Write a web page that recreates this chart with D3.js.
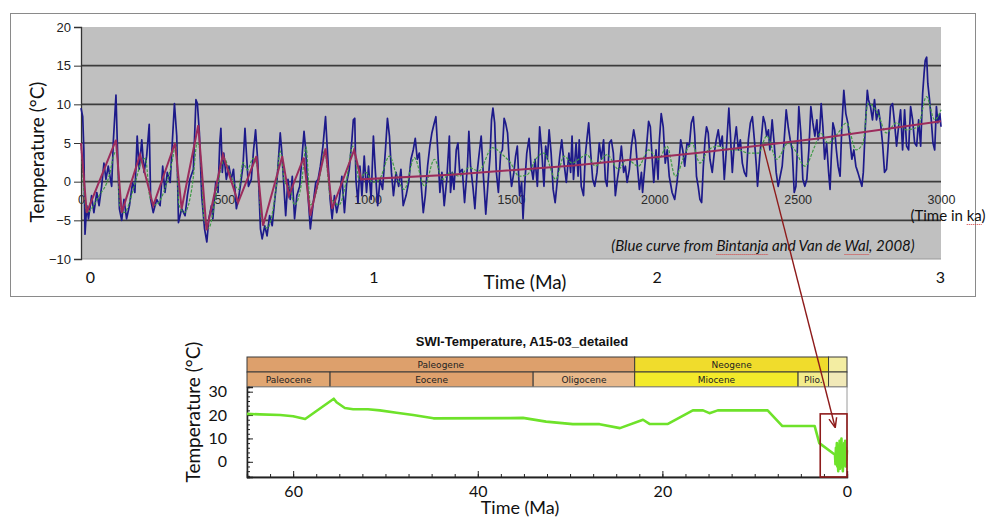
<!DOCTYPE html>
<meta charset="utf-8">
<style>
body { margin: 0; background: #fff; }
svg { display: block; }
.num { font-family: "Liberation Sans", Arial, sans-serif; }
.cal { font-family: Lato, "Open Sans", sans-serif; }
</style>
<body>
<script src="https://d3js.org/d3.v7.min.js"></script>
<script>

// ---- data: upper chart (time in ka, temperature in degC) ----
var blueCurve = [[0,9.5],[6,8.4],[10,4.1],[14,-6.8],[20,-3.1],[26,-4.8],[37,-1.8],[45,-4],[55,-1.4],[63,-3.1],[72,-0.6],[80,2.4],[87,0.3],[95,2],[107,-0.6],[113,5.4],[122,11.2],[127,4.6],[134,-3.5],[142,-5],[150,-2.3],[159,-4.8],[169,-3.1],[180,-0.1],[188,-1.4],[196,5.9],[203,1.6],[212,5.4],[220,1.2],[229,3.3],[238,7.4],[243,-2.3],[252,-4],[264,-2.3],[276,-3.1],[285,2],[293,-1.4],[301,1.2],[311,-0.1],[319,5.4],[326,10.1],[334,5.9],[340,-5.3],[351,-3.5],[363,-4.4],[371,-1.8],[380,0.3],[392,1.6],[401,10.6],[406,10.1],[413,6.3],[421,-1.8],[431,-6.1],[439,-7.8],[446,-4.8],[455,-3.1],[460,-4.8],[470,-0.1],[478,-1.4],[484,5],[488,6.9],[493,1.2],[498,3.7],[507,0.3],[516,2],[524,0.3],[532,1.6],[542,-3.5],[551,-1.8],[559,0.3],[565,2],[572,6.9],[577,3.7],[584,-0.6],[594,0.3],[602,4.1],[609,6.7],[617,2.4],[626,-6.1],[632,-7.4],[641,-5.7],[649,-7],[658,-4.4],[667,-5.7],[676,-2.3],[684,0.3],[691,4.1],[695,6.3],[700,4.1],[707,-0.1],[714,-4.4],[722,0.3],[730,-2.3],[737,0.7],[745,-4.8],[753,-1.8],[763,-0.6],[772,3.7],[778,6.5],[784,4.1],[792,-1.8],[800,-6.1],[809,-3.1],[819,-0.1],[827,0.3],[835,2],[844,4.6],[853,8.4],[860,3.7],[869,-2.3],[876,-4.8],[884,-1.8],[892,-4],[901,-2.3],[910,0.7],[919,-4],[927,-0.1],[936,1.6],[945,5.4],[950,8],[955,8.2],[959,0.3],[966,-2.7],[973,2],[980,-1.8],[988,3.3],[996,-1.4],[1003,2],[1012,-2.3],[1020,5.9],[1027,1.2],[1035,-3.1],[1043,0.3],[1052,-1],[1062,4.1],[1069,8.2],[1076,5.9],[1083,1.2],[1090,-1.8],[1099,1.2],[1108,-0.6],[1116,1.6],[1124,-3.1],[1134,-1.8],[1143,-0.1],[1151,2.9],[1159,4.1],[1166,5.6],[1173,2.9],[1180,3.7],[1187,-0.6],[1194,-4],[1201,-1.8],[1209,2],[1217,4.6],[1224,6.3],[1231,7.4],[1238,8.4],[1245,3.7],[1252,-1.4],[1259,1.2],[1267,-3.1],[1276,0.3],[1285,5.9],[1289,-1.4],[1295,1.2],[1301,-1],[1309,4.1],[1315,5],[1321,1.2],[1330,1.6],[1338,-2.7],[1348,2],[1353,6.5],[1359,2],[1367,-0.6],[1374,-3.5],[1382,1.2],[1388,3.3],[1396,5.9],[1403,1.2],[1412,-4.2],[1420,-0.1],[1427,3.3],[1432,8],[1437,9.5],[1443,7.6],[1449,1.2],[1456,-1.4],[1464,3.7],[1470,4.1],[1476,8.2],[1481,7.6],[1488,6.3],[1495,2],[1502,-0.6],[1510,1.2],[1516,3.3],[1522,4.6],[1530,-1.8],[1537,-0.1],[1542,-4.8],[1549,0.3],[1555,3.7],[1563,5.6],[1570,2],[1577,0.3],[1584,2.9],[1592,-0.6],[1600,7.1],[1607,4.1],[1615,-0.6],[1621,4.6],[1627,2.9],[1633,6.7],[1640,3.7],[1647,-1],[1654,-2.7],[1662,0.3],[1670,3.3],[1677,5.4],[1685,2.4],[1693,-0.1],[1702,3.7],[1708,1.2],[1713,5.9],[1718,0.3],[1727,5],[1734,0.7],[1738,5.4],[1745,-0.6],[1753,-1.8],[1759,3.3],[1766,5.9],[1771,7.6],[1778,3.7],[1785,0.3],[1792,-0.6],[1800,1.2],[1808,5],[1815,2.9],[1823,5.4],[1829,0.3],[1835,-0.6],[1843,5],[1850,5.4],[1857,3.7],[1864,-1.8],[1871,0.3],[1878,2],[1885,4.6],[1893,1.2],[1899,2],[1905,-0.1],[1913,1.6],[1920,4.6],[1928,6.7],[1934,5.4],[1941,2],[1948,-1],[1955,1.2],[1959,-1.4],[1966,1.6],[1973,4.6],[1980,7.8],[1986,7.1],[1992,3.3],[1998,-0.1],[2006,4.1],[2013,0.3],[2017,5],[2024,8.8],[2031,7.1],[2038,2.4],[2045,4.1],[2052,0.7],[2062,-1.4],[2071,-2.3],[2079,-0.1],[2085,2],[2092,5.4],[2099,4.1],[2106,2],[2114,5],[2122,4.6],[2129,7.6],[2136,8.4],[2141,6],[2147,0.7],[2153,-0.6],[2159,-2.3],[2165,-2.7],[2171,2],[2177,5.4],[2182,7.1],[2188,6.3],[2194,2.9],[2202,1.2],[2209,3.7],[2216,5.4],[2223,6.7],[2230,4.6],[2237,5.9],[2244,0.3],[2249,2.9],[2256,7.1],[2260,9.5],[2265,6.3],[2272,1.2],[2279,5],[2286,7.1],[2293,4.1],[2300,5.4],[2307,2.4],[2314,1.2],[2321,0.7],[2328,5.4],[2335,7.6],[2342,8.4],[2349,5.4],[2356,2],[2360,-0.6],[2367,2.9],[2374,5.9],[2380,8.4],[2386,7.6],[2392,5.9],[2398,6.7],[2403,4.1],[2411,8],[2418,5],[2425,1.2],[2432,-0.6],[2439,0.7],[2446,2],[2453,5.4],[2460,9.3],[2467,7.1],[2474,5.4],[2481,4.1],[2488,-1.4],[2494,-0.6],[2500,5.4],[2504,9.7],[2511,6.3],[2518,0.3],[2525,-0.6],[2532,0.3],[2539,4.1],[2546,9.7],[2553,7.6],[2560,5.9],[2567,8],[2571,5.4],[2577,6.7],[2582,10.1],[2588,7.1],[2594,2.9],[2601,5],[2608,1.2],[2613,-1],[2617,2.9],[2623,7.6],[2629,6.7],[2635,4.1],[2641,2],[2648,0.7],[2654,7.1],[2661,11.8],[2668,8.8],[2675,7.6],[2682,5.4],[2689,2.9],[2696,4.1],[2703,2],[2710,1.2],[2717,0.3],[2724,-0.6],[2729,1.2],[2736,7.1],[2743,11.8],[2747,10.6],[2754,9.7],[2761,8],[2768,10.6],[2775,8],[2782,9.3],[2789,7.6],[2796,5],[2803,1.2],[2810,1.6],[2817,5.4],[2824,9.7],[2831,10.1],[2838,7.6],[2845,4.6],[2852,7.1],[2859,9.3],[2866,4.1],[2873,9.3],[2880,4.6],[2887,4.1],[2894,9.7],[2901,8],[2908,5],[2915,4.6],[2922,8],[2929,4.6],[2936,11.4],[2941,14],[2945,15.7],[2950,16.1],[2954,12.7],[2960,10.6],[2966,8],[2972,5],[2978,4.1],[2984,9.7],[2989,7.6],[2996,8.8],[3000,7.1]];

var greenCurve = [[0,5],[12,-2],[20,-4],[60,-2],[100,1],[115,3.5],[125,4],[135,-3],[150,-4],[190,0],[210,2.5],[225,3],[240,-2],[260,-3],[300,0],[320,3],[330,5],[342,-3],[360,-4],[390,0],[405,5],[415,4],[430,-5],[445,-6],[470,-2],[490,2],[500,3],[520,1],[550,-1],[565,2.5],[580,1.5],[600,3],[615,2],[630,-5],[650,-6],[680,-1],[695,4],[710,0],[730,-1],[745,-3],[770,0],[785,4.5],[800,-3],[830,0],[850,4],[870,-2],[900,-3],[925,0],[948,4.6],[971,0.3],[994,1.2],[1017,-0.1],[1041,0.3],[1076,3.3],[1105,0.3],[1128,-1],[1163,3.1],[1198,-0.6],[1233,2.9],[1262,0.3],[1288,1.2],[1319,0.7],[1353,1.8],[1388,1.4],[1435,4.4],[1470,3.5],[1499,2.4],[1528,0.7],[1557,0.9],[1586,2.9],[1615,3.7],[1656,0.3],[1685,3.3],[1714,2.4],[1736,2.9],[1765,3.5],[1794,2],[1835,3.5],[1875,1.6],[1904,2.9],[1945,2],[1980,4.1],[2015,2.9],[2044,4.6],[2073,0.7],[2108,3.7],[2131,5],[2159,2.4],[2188,4.1],[2223,4.6],[2258,4.1],[2293,4.1],[2328,3.7],[2363,3.7],[2392,5.9],[2427,2.9],[2467,5],[2490,4.1],[2525,2],[2560,4.6],[2580,6.3],[2606,5],[2641,6.3],[2670,7.6],[2704,4.1],[2728,5],[2745,10.1],[2780,8.8],[2809,6.3],[2844,7.6],[2879,6.7],[2920,7.1],[2949,11],[2978,8],[3000,9.3]];

var maroonCurve = [[0,5],[20,-4],[122,5.4],[142,-4],[206,3.5],[252,-3.1],[328,5],[351,-3.5],[409,7.3],[438,-6.3],[495,3.5],[548,-2.7],[612,3.3],[635,-5.7],[702,3.3],[725,-1.8],[777,3.1],[800,-4.4],[853,4.3],[876,-3.5],[953,4.1],[977,0.3],[1291,0.9],[1720,2.1],[2149,3.7],[2578,5.6],[3000,7.8]];

var kaTicks = [0, 500, 1000, 1500, 2000, 2500, 3000];
var tempTicksTop = [-10, -5, 0, 5, 10, 15, 20];
var maTicksTop = [0, 1, 2, 3];

// ---- data: lower chart (age in Ma, temperature in degC) ----
var swiCurve = [[65,20.5],[63.6,20.3],[61.4,20],[60,19.5],[58.7,18.3],[55.6,27],[55.3,25.5],[54.4,23],[53.5,22.5],[51.9,22.5],[50.6,22],[48.8,21],[47,20],[44.8,18.6],[36.5,18.7],[35.1,18.8],[32.6,17.2],[29.7,16.1],[26.8,16.1],[24.6,14.4],[22.1,18],[21.4,16.2],[19.4,16.2],[16.7,22],[15.6,22],[14.9,20.8],[14,22],[8.6,22],[7,15.3],[3.5,15.3],[3,8],[1.3,3],[1.25,-1],[1.2,6],[1.15,0],[1.1,8],[1.05,-2],[1.0,5],[0.95,-4],[0.9,7],[0.85,1],[0.8,9],[0.75,-3],[0.7,6],[0.65,-2],[0.6,10],[0.55,0],[0.5,7],[0.45,-4],[0.4,5],[0.35,-1],[0.3,8],[0.25,2],[0.2,9],[0.15,-2],[0.1,6],[0.05,1],[0,5]];

var periods = [
  { name: "Paleogene", from: 65, to: 23, fill: "#dda06c" },
  { name: "Neogene", from: 23, to: 2.0, fill: "#f0dc2c" },
  { name: "", from: 2.0, to: 0, fill: "#f3eda2" }
];
var epochs = [
  { name: "Paleocene", from: 65, to: 56, fill: "#e0a672" },
  { name: "Eocene", from: 56, to: 34, fill: "#dfa16d" },
  { name: "Oligocene", from: 34, to: 23, fill: "#e8b88a" },
  { name: "Miocene", from: 23, to: 5.3, fill: "#f3ea2a" },
  { name: "Plio.", from: 5.3, to: 2.0, fill: "#f3ec8c" },
  { name: "", from: 2.0, to: 0, fill: "#f1e9b8" }
];
var maTicksLow = [60, 40, 20, 0];
var tempTicksLow = [0, 10, 20, 30];

var svg = d3.select("body").append("svg")
    .attr("width", 989)
    .attr("height", 517);

// ================= upper chart =================
var xTop = d3.scaleLinear().domain([0, 3000]).range([81, 941]);
var yTop = d3.scaleLinear().domain([-10, 20]).range([259, 27]);
var xMa = d3.scaleLinear().domain([0, 3]).range([90, 940]);

svg.append("rect")
    .attr("x", 10.5).attr("y", 13.5).attr("width", 965).attr("height", 283)
    .attr("fill", "#fff").attr("stroke", "#8a8a8a");

svg.append("rect")
    .attr("x", xTop(0)).attr("y", yTop(20))
    .attr("width", xTop(3000) - xTop(0)).attr("height", yTop(-10) - yTop(20))
    .attr("fill", "#c0c0c0");

// horizontal grid
svg.append("g").selectAll("line")
    .data(tempTicksTop.filter(function(d) { return d > -10 && d < 20; }))
  .enter().append("line")
    .attr("x1", xTop(0)).attr("x2", xTop(3000))
    .attr("y1", function(d) { return yTop(d); })
    .attr("y2", function(d) { return yTop(d); })
    .attr("stroke", "#3c3c3c").attr("stroke-width", 1.6);

svg.append("line")
    .attr("x1", xTop(0)).attr("x2", xTop(3000))
    .attr("y1", yTop(-10)).attr("y2", yTop(-10))
    .attr("stroke", "#9a9a9a").attr("stroke-width", 1);

// y axis
var yAxisTop = svg.append("g")
    .attr("class", "num")
    .attr("transform", "translate(" + xTop(0) + ",0)")
    .call(d3.axisLeft(yTop).tickValues(tempTicksTop).tickSize(7).tickPadding(3));
yAxisTop.select(".domain").attr("stroke", "#333").attr("stroke-width", 1.3);
yAxisTop.selectAll(".tick line").attr("stroke", "#333");
yAxisTop.selectAll("text").attr("font-size", 13).attr("fill", "#222");

// ka labels on the zero line
var kaAxis = svg.append("g")
    .attr("class", "num")
    .attr("transform", "translate(0," + yTop(0) + ")")
    .call(d3.axisBottom(xTop).tickValues(kaTicks).tickFormat(d3.format("d")).tickSize(0).tickPadding(13));
kaAxis.select(".domain").remove();
kaAxis.selectAll("text").attr("font-size", 12.5).attr("fill", "#2a2a2a");

// curves
var lineTop = d3.line()
    .x(function(d) { return xTop(d[0]); })
    .y(function(d) { return yTop(d[1]); });

svg.append("path").datum(blueCurve)
    .attr("d", lineTop).attr("fill", "none")
    .attr("stroke", "#1d1a8a").attr("stroke-width", 1.7).attr("stroke-linejoin", "round");

svg.append("path").datum(greenCurve)
    .attr("d", lineTop.curve(d3.curveMonotoneX)).attr("fill", "none")
    .attr("stroke", "#3f9a45").attr("stroke-width", 1.2).attr("stroke-dasharray", "3,1.5");
lineTop.curve(d3.curveLinear);

svg.append("path").datum(maroonCurve)
    .attr("d", lineTop).attr("fill", "none")
    .attr("stroke", "#9b2c5c").attr("stroke-width", 2);

// Ma labels and axis titles
var maAxis = svg.append("g")
    .attr("class", "cal")
    .attr("transform", "translate(0,272)")
    .call(d3.axisBottom(xMa).tickValues(maTicksTop).tickFormat(d3.format("d")).tickSize(0).tickPadding(0));
maAxis.select(".domain").remove();
maAxis.selectAll("text").attr("font-size", 16).attr("fill", "#111");

svg.append("text").attr("class", "cal")
    .attr("x", 525).attr("y", 289).attr("text-anchor", "middle")
    .attr("font-size", 19).attr("fill", "#111").text("Time (Ma)");

svg.append("text").attr("class", "cal")
    .attr("transform", "translate(44,152) rotate(-90)").attr("text-anchor", "middle")
    .attr("font-size", 19).attr("fill", "#111").text("Temperature (°C)");

// annotation texts with the spell-check squiggles seen in the source
function squiggle(textSel, word) {
  var node = textSel.node(), s = node.textContent, i = s.indexOf(word);
  if (i < 0) return;
  var x0 = node.getStartPositionOfChar(i).x, x1 = node.getEndPositionOfChar(i + word.length - 1).x;
  var y = node.getBBox().y + node.getBBox().height + 0.5;
  svg.append("line").attr("x1", x0).attr("x2", x1).attr("y1", y).attr("y2", y)
      .attr("stroke", "#d23b3b").attr("stroke-width", 1).attr("stroke-dasharray", "1,1");
}

var kaNote = svg.append("text").attr("class", "cal")
    .attr("x", 948).attr("y", 221).attr("text-anchor", "middle")
    .attr("font-size", 15).attr("fill", "#111").text("(Time in ka)");
squiggle(kaNote, "ka");

var credit = svg.append("text").attr("class", "cal")
    .attr("x", 763).attr("y", 251).attr("text-anchor", "middle")
    .attr("font-size", 15).attr("font-style", "italic").attr("fill", "#111")
    .text("(Blue curve from Bintanja and Van de Wal, 2008)");
squiggle(credit, "Bintanja");
squiggle(credit, "Wal");

// ================= lower chart =================
var xLow = d3.scaleLinear().domain([65, 0]).range([247, 847]);
var yLow = d3.scaleLinear().domain([-6.5, 32]).range([477, 387]);

svg.append("text")
    .attr("x", 522).attr("y", 346).attr("text-anchor", "middle")
    .attr("font-family", "'Liberation Sans', Arial, sans-serif")
    .attr("font-weight", "bold").attr("font-size", 13).attr("fill", "#111")
    .text("SWI-Temperature, A15-03_detailed");

function drawBand(rows, y0, h) {
  var g = svg.append("g");
  g.selectAll("rect").data(rows).enter().append("rect")
      .attr("x", function(d) { return xLow(d.from); })
      .attr("y", y0)
      .attr("width", function(d) { return xLow(d.to) - xLow(d.from); })
      .attr("height", h)
      .attr("fill", function(d) { return d.fill; })
      .attr("stroke", "#3a3a3a").attr("stroke-width", 1);
  g.selectAll("text").data(rows).enter().append("text")
      .attr("x", function(d) { return (xLow(d.from) + xLow(d.to)) / 2; })
      .attr("y", y0 + h - 4)
      .attr("text-anchor", "middle")
      .attr("font-family", "'DejaVu Sans', sans-serif")
      .attr("font-size", 9).attr("fill", "#222")
      .text(function(d) { return d.name; });
}
drawBand(periods, 357, 15);
drawBand(epochs, 372, 15);

// plot frame
svg.append("rect")
    .attr("x", xLow(65)).attr("y", yLow(32))
    .attr("width", xLow(0) - xLow(65)).attr("height", yLow(-6.5) - yLow(32))
    .attr("fill", "#fff").attr("stroke", "#9a9a9a");

// axes with inner ticks
var xMinor = svg.append("g")
    .attr("transform", "translate(0," + yLow(-6.5) + ")")
    .call(d3.axisBottom(xLow).tickValues(d3.range(0, 65.1, 2.5)).tickSize(-3).tickFormat(""));
var xMajor = svg.append("g")
    .attr("class", "cal")
    .attr("transform", "translate(0," + yLow(-6.5) + ")")
    .call(d3.axisBottom(xLow).tickValues(maTicksLow).tickSize(-6).tickPadding(9));
[xMinor, xMajor].forEach(function(a) {
  a.select(".domain").attr("stroke", "#222").attr("stroke-width", 1.3);
  a.selectAll(".tick line").attr("stroke", "#222");
});
xMajor.selectAll("text").attr("font-size", 16).attr("fill", "#111");

var yMinor = svg.append("g")
    .attr("transform", "translate(" + xLow(65) + ",0)")
    .call(d3.axisLeft(yLow).tickValues(d3.range(-6, 32.1, 2)).tickSize(-3).tickFormat(""));
var yMajor = svg.append("g")
    .attr("class", "cal")
    .attr("transform", "translate(" + xLow(65) + ",0)")
    .call(d3.axisLeft(yLow).tickValues(tempTicksLow).tickSize(-6).tickPadding(20));
[yMinor, yMajor].forEach(function(a) {
  a.select(".domain").attr("stroke", "#222").attr("stroke-width", 1.3);
  a.selectAll(".tick line").attr("stroke", "#222");
});
yMajor.selectAll("text").attr("font-size", 16).attr("fill", "#111");

var lineLow = d3.line()
    .x(function(d) { return xLow(d[0]); })
    .y(function(d) { return yLow(d[1]); });

svg.append("path").datum(swiCurve)
    .attr("d", lineLow).attr("fill", "none")
    .attr("stroke", "#6ee22a").attr("stroke-width", 2.6).attr("stroke-linejoin", "round");

svg.append("text").attr("class", "cal")
    .attr("x", 520).attr("y", 514).attr("text-anchor", "middle")
    .attr("font-size", 18).attr("fill", "#111").text("Time (Ma)");

svg.append("text").attr("class", "cal")
    .attr("transform", "translate(200,412) rotate(-90)").attr("text-anchor", "middle")
    .attr("font-size", 19).attr("fill", "#111").text("Temperature (°C)");

// zoom box on the last 3 Ma and the arrow from the upper chart
svg.append("rect")
    .attr("x", xLow(2.9)).attr("y", yLow(20.5))
    .attr("width", xLow(0) - xLow(2.9)).attr("height", yLow(-6.5) - yLow(20.5))
    .attr("fill", "none").attr("stroke", "#8e1b1b").attr("stroke-width", 1.6);

svg.append("defs").append("marker")
    .attr("id", "head").attr("viewBox", "0 0 10 10")
    .attr("refX", 9).attr("refY", 5)
    .attr("markerWidth", 7).attr("markerHeight", 7)
    .attr("orient", "auto")
  .append("path").attr("d", "M0,1L10,5L0,9").attr("fill", "none")
    .attr("stroke", "#8e1b1b").attr("stroke-width", 1.5);

svg.append("line")
    .attr("x1", xTop(2380)).attr("y1", yTop(4.6))
    .attr("x2", xLow(1.3)).attr("y2", yLow(15))
    .attr("stroke", "#8e1b1b").attr("stroke-width", 1.4)
    .attr("marker-end", "url(#head)");

</script>
</body>
